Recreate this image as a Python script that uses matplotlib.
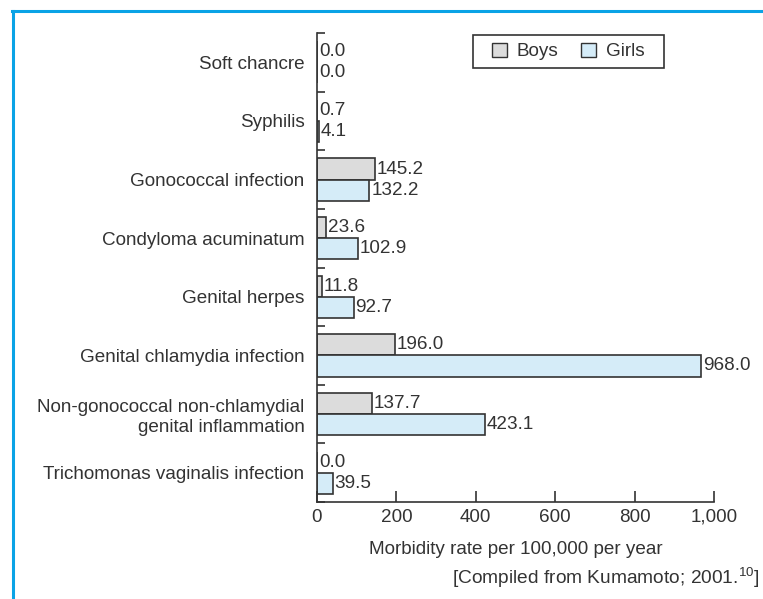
import matplotlib
matplotlib.use("Agg")
import matplotlib.pyplot as plt
from matplotlib.lines import Line2D
from matplotlib.patches import Patch, Rectangle
from matplotlib.ticker import FuncFormatter
import numpy as np

plt.rcParams['font.family'] = ['Liberation Sans', 'DejaVu Sans']
plt.rcParams['mathtext.default'] = 'regular'

# data, top to bottom
categories = ["Soft chancre", "Syphilis", "Gonococcal infection",
              "Condyloma acuminatum", "Genital herpes",
              "Genital chlamydia infection",
              "Non-gonococcal non-chlamydial\ngenital inflammation",
              "Trichomonas vaginalis infection"]
boys  = [0.0, 0.7, 145.2, 23.6, 11.8, 196.0, 137.7, 0.0]
girls = [0.0, 4.1, 132.2, 102.9, 92.7, 968.0, 423.1, 39.5]
xticks = [0, 200, 400, 600, 800, 1000]

ink = "#333333"
boy_col = "#dcdcdc"
girl_col = "#d5ecf8"
frame_col = "#0aa3e6"
fs = 13.6

fig = plt.figure(figsize=(7.63, 5.99), dpi=100)
ax = fig.add_axes([317/763, 1 - 502/599, 397/763, (502 - 33)/599])

y = np.arange(len(categories))
h = 0.36
b1 = ax.barh(y - h/2, boys, height=h, color=boy_col, edgecolor=ink, linewidth=1.2)
b2 = ax.barh(y + h/2, girls, height=h, color=girl_col, edgecolor=ink, linewidth=1.2)

for bars, vals in ((b1, boys), (b2, girls)):
    for bar, v in zip(bars, vals):
        ax.text(bar.get_width() + 4.5, bar.get_y() + bar.get_height()/2, f"{v:.1f}",
                ha="left", va="center", fontsize=fs, color=ink)

ax.set_ylim(len(categories) - 0.5, -0.5)
ax.set_xlim(0, 1000)
ax.set_yticks(y)
ax.set_yticklabels(categories, fontsize=fs, color=ink)
ax.set_yticks(np.arange(len(categories) + 1) - 0.5, minor=True)
ax.tick_params(axis="y", which="major", length=0, pad=9)
ax.tick_params(axis="y", which="minor", direction="in", length=6, width=1.2, color=ink)
ax.set_xticks(xticks)
ax.xaxis.set_major_formatter(FuncFormatter(lambda v, p: f"{int(v):,}"))
ax.tick_params(axis="x", direction="in", length=8, width=1.2, color=ink,
               labelsize=fs, labelcolor=ink, pad=5)
ax.set_xlabel("Morbidity rate per 100,000 per year", fontsize=fs, color=ink, labelpad=11)

for s in ("top", "right"):
    ax.spines[s].set_visible(False)
for s in ("left", "bottom"):
    ax.spines[s].set_color(ink)
    ax.spines[s].set_linewidth(1.2)

# legend: wide box drawn separately, entries centred in it
lx0, lx1, ly0, ly1 = 473, 664, 35, 68
fig.add_artist(Rectangle((lx0/763, 1 - ly1/599), (lx1 - lx0)/763, (ly1 - ly0)/599,
                         transform=fig.transFigure, facecolor="white",
                         edgecolor=ink, linewidth=1.2, zorder=5))
handles = [Patch(facecolor=boy_col, edgecolor=ink, label="Boys"),
           Patch(facecolor=girl_col, edgecolor=ink, label="Girls")]
leg = fig.legend(handles=handles, ncol=2, loc="center",
                 bbox_to_anchor=((lx0 + lx1)/2/763, 1 - (ly0 + ly1)/2/599),
                 fontsize=fs, frameon=False, handlelength=0.75, handleheight=0.75,
                 columnspacing=1.2, handletextpad=0.55, borderpad=0.0)
leg.set_zorder(6)
for t in leg.get_texts():
    t.set_color(ink)

fig.text(760/763, 1 - 578/599, "[Compiled from Kumamoto; 2001.$^{10}$]",
         ha="right", va="center", fontsize=13.8, color=ink)

# blue frame along top and left
fig.add_artist(Line2D([13/763, 13/763], [0, 1 - 11/599], transform=fig.transFigure,
                      color=frame_col, linewidth=2.2))
fig.add_artist(Line2D([12/763, 1], [1 - 11/599, 1 - 11/599], transform=fig.transFigure,
                      color=frame_col, linewidth=2.2))

fig.savefig("out.png", dpi=100)
